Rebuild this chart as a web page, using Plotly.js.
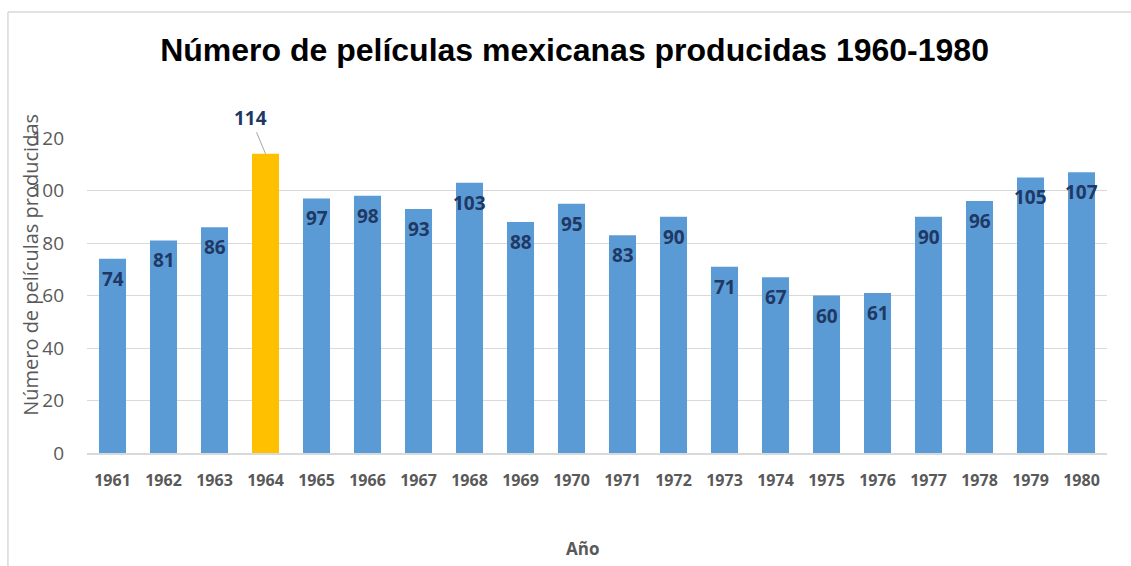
<!DOCTYPE html>
<html><head><meta charset="utf-8">
<script src="https://cdn.plot.ly/plotly-3.0.1.min.js"></script>
<style>html,body{margin:0;padding:0;background:#fff}#c{width:1131px;height:566px}</style>
</head><body><div id="c"></div>
<script>
const years = ['1961','1962','1963','1964','1965','1966','1967','1968','1969','1970','1971','1972','1973','1974','1975','1976','1977','1978','1979','1980'];
const films = [74,81,86,114,97,98,93,103,88,95,83,90,71,67,60,61,90,96,105,107];
const highlightYear = '1964';

const colors = years.map(y => y === highlightYear ? '#ffc000' : '#5b9bd5');
const labelFont = {family: 'Open Sans, sans-serif', size: 19, color: '#1f3864'};

const annotations = years.map((y, i) => {
  if (y === highlightYear) {
    return {x: i, y: films[i], xref: 'x', yref: 'y', text: '<b>' + films[i] + '</b>',
      showarrow: true, arrowhead: 0, arrowwidth: 1, arrowcolor: '#a6a6a6', ax: -15, ay: -36,
      font: labelFont};
  }
  return {x: i, y: films[i], xref: 'x', yref: 'y', text: '<b>' + films[i] + '</b>', showarrow: false,
    yshift: -20, font: labelFont};
});

annotations.push({xref: 'paper', yref: 'paper', x: -0.055, xanchor: 'center', y: 0.597, text: 'Número de películas producidas',
  textangle: -90, showarrow: false, font: {family: 'Open Sans, sans-serif', size: 20, color: '#595959'}});
annotations.push({xref: 'paper', yref: 'paper', x: 0.486, y: -0.302, yanchor: 'middle', text: '<b>Año</b>', showarrow: false,
  font: {family: 'Open Sans, sans-serif', size: 17, color: '#595959'}});

const data = [{
  type: 'bar', x: years, y: films,
  marker: {color: colors, line: {width: 0}},
  hoverinfo: 'x+y'
}];

const layout = {
  width: 1131, height: 566,
  margin: {l: 87, r: 24, t: 138, b: 113},
  paper_bgcolor: '#ffffff', plot_bgcolor: '#ffffff',
  bargap: 0.47,
  showlegend: false,
  title: {text: '<b>Número de películas mexicanas producidas 1960-1980</b>', x: 0.508, xanchor: 'center',
    y: 0.912, yanchor: 'middle', font: {family: 'Liberation Sans, Arial, sans-serif', size: 32, color: '#000000'}},
  xaxis: {type: 'category', range: [-0.5, years.length - 0.5], autorange: false,
    showgrid: false, showline: true, linecolor: '#d9d9d9', linewidth: 2,
    tickfont: {family: 'Open Sans, sans-serif', size: 16, color: '#595959', weight: 'bold'},
    ticks: '', ticklabelstandoff: 12, zeroline: false, fixedrange: true},
  yaxis: {range: [0, 120], autorange: false, dtick: 20, tick0: 0, showgrid: true, gridcolor: '#d9d9d9', gridwidth: 1,
    zeroline: false, showline: false, ticks: '', ticklabelstandoff: 22,
    tickfont: {family: 'Open Sans, sans-serif', size: 19, color: '#595959'}, fixedrange: true},
  annotations: annotations,
  shapes: [
    {type: 'line', xref: 'paper', yref: 'paper', x0: -0.0775, x1: -0.0775, y0: 1.4, y1: -0.4, line: {color: '#d9d9d9', width: 1.5}},
    {type: 'line', xref: 'paper', yref: 'paper', x0: -0.0775, x1: 1.1, y0: 1.4, y1: 1.4, line: {color: '#d9d9d9', width: 1.5}}
  ]
};

Plotly.newPlot('c', data, layout, {displayModeBar: false, staticPlot: true});
</script></body></html>
